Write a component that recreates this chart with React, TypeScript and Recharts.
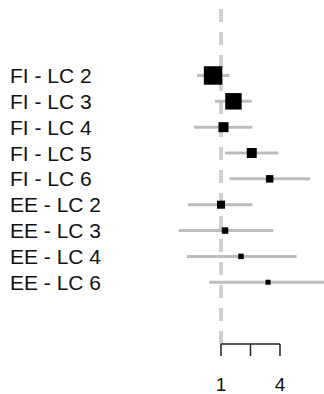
import React from 'react';
import { ComposedChart, Scatter, XAxis, YAxis, ZAxis, ErrorBar, ReferenceLine } from 'recharts';

const labels = ['FI - LC 2', 'FI - LC 3', 'FI - LC 4', 'FI - LC 5', 'FI - LC 6', 'EE - LC 2', 'EE - LC 3', 'EE - LC 4', 'EE - LC 6'];
const estimates = [0.83, 1.34, 1.06, 2.06, 3.14, 1.0, 1.1, 1.6, 3.02];
const lower = [0.57, 0.87, 0.53, 1.1, 1.22, 0.46, 0.37, 0.45, 0.76];
const upper = [1.22, 2.06, 2.09, 3.84, 8.1, 2.09, 3.42, 5.92, 12];
const weights = [34, 27, 10, 10, 5.6, 6.4, 4.2, 3, 2.5];
const xTicks = [1, 2, 4];

const rows = labels.map((label, i) => ({
    label,
    row: i + 1,
    est: estimates[i],
    weight: weights[i],
    err: [estimates[i] - lower[i], upper[i] - estimates[i]],
}));

const FONT = '"Liberation Sans", Arial, sans-serif';

// row labels sit at the far left, left aligned
const RowLabel = (props: any) => {
    const { y, payload } = props;
    const text = labels[payload.value - 1];
    if (!text) return null;
    return (
        <text x={10} y={y} dy="0.36em" textAnchor="start" fontSize={21} fill="#111" fontFamily={FONT}>
            {text}
        </text>
    );
};

const yDomain: [number, number] = [-1.92, 11.39];

export default function App() {
    return (
        <div style={{ position: 'absolute', left: 0, top: 0, width: 324, height: 394, background: '#fff' }}>
            <ComposedChart width={324} height={394} data={rows} margin={{ top: 0, right: 0, bottom: 0, left: 0 }}>
                <XAxis
                    dataKey="est"
                    type="number"
                    scale="log"
                    domain={[0.25, 11.25]}
                    allowDataOverflow
                    ticks={xTicks}
                    tickFormatter={(v: number) => (v === 2 ? '' : String(v))}
                    axisLine={false}
                    tickLine={{ stroke: '#222', strokeWidth: 1.5 }}
                    tickSize={12}
                    tickMargin={22}
                    height={50}
                    tick={{ fontSize: 19, fill: '#111', fontFamily: FONT }}
                />
                <YAxis
                    dataKey="row"
                    type="number"
                    domain={yDomain}
                    reversed
                    allowDataOverflow
                    ticks={[1, 2, 3, 4, 5, 6, 7, 8, 9]}
                    axisLine={false}
                    tickLine={false}
                    width={162}
                    tick={<RowLabel />}
                />
                <ZAxis dataKey="weight" type="number" domain={[0, 36]} range={[0, 361]} />
                <ReferenceLine x={1} stroke="#d0d0d0" strokeWidth={4} strokeDasharray="13 10" />
                <ReferenceLine
                    segment={[{ x: 1, y: yDomain[1] }, { x: 4, y: yDomain[1] }]}
                    stroke="#222"
                    strokeWidth={1.5}
                />
                <Scatter dataKey="est" fill="#000" shape="square" isAnimationActive={false}>
                    <ErrorBar dataKey="err" direction="x" width={0} stroke="#bdbdbd" strokeWidth={3} />
                </Scatter>
            </ComposedChart>
        </div>
    );
}
